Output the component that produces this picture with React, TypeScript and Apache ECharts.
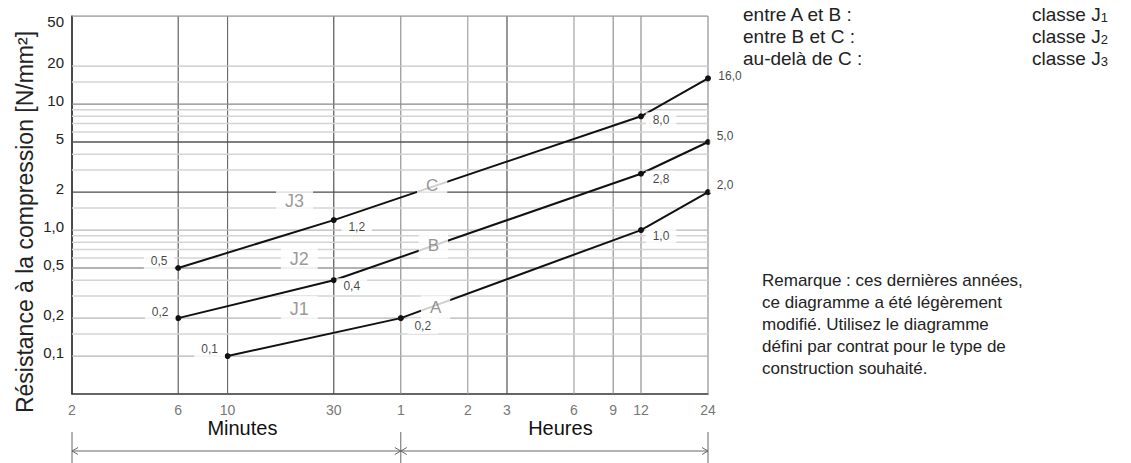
import React, { useEffect, useRef } from 'react';
import * as echarts from 'echarts';

// ---- data ----
const X_MIN = 2;
const X_MAX = 1440;
const Y_MIN = 0.05;
const Y_MAX = 50;

const xTickValues = [2, 6, 10, 30, 60, 120, 180, 360, 540, 720, 1440];
const xTickLabels = ['2', '6', '10', '30', '1', '2', '3', '6', '9', '12', '24'];

const yMajorValues = [50, 20, 10, 5, 2, 1, 0.5, 0.2, 0.1];
const yTickLabels = ['50', '20', '10', '5', '2', '1,0', '0,5', '0,2', '0,1'];
const yMinorValues = [15, 9, 8, 7, 6, 4, 3, 1.5, 0.9, 0.8, 0.7, 0.6, 0.4, 0.3, 0.15];

const curveAX = [10, 60, 720, 1440];
const curveAY = [0.1, 0.2, 1.0, 2.0];
const curveALabels = ['0,1', '0,2', '1,0', '2,0'];

const curveBX = [6, 30, 720, 1440];
const curveBY = [0.2, 0.4, 2.8, 5.0];
const curveBLabels = ['0,2', '0,4', '2,8', '5,0'];

const curveCX = [6, 30, 720, 1440];
const curveCY = [0.5, 1.2, 8.0, 16.0];
const curveCLabels = ['0,5', '1,2', '8,0', '16,0'];

const curveNames = ['A', 'B', 'C'];
const curveNameX = [86, 84, 83];
const curveNameY = [0.241, 0.75, 2.25];

const classNames = ['J1', 'J2', 'J3'];
const classX = [21, 21, 20];
const classY = [0.237, 0.59, 1.7];

const unitNames = ['Minutes', 'Heures'];
const unitStart = [2, 60];
const unitEnd = [60, 1440];

const legendLeft = ['entre A et B :', 'entre B et C :', 'au-delà de C :'];
const legendClass = ['1', '2', '3'];

const noteLines = [
  'Remarque : ces dernières années,',
  'ce diagramme a été légèrement',
  'modifié. Utilisez le diagramme',
  'défini par contrat pour le type de',
  'construction souhaité.',
];

const yAxisTitle = 'Résistance à la compression [N/mm²]';

// ---- styles ----
const FONT = '"Liberation Sans", Arial, Helvetica, sans-serif';
const xGridColor: Record<string, string> = {
  '2': '#333', '6': '#555', '10': '#666', '30': '#444', '60': '#888', '120': '#9a9a9a',
  '180': '#444', '360': '#9a9a9a', '540': '#888', '720': '#888', '1440': '#888',
};
const yMajorColor: Record<string, string> = {
  '50': '#999', '20': '#c6c6c6', '10': '#888', '5': '#555', '2': '#4a4a4a',
  '1': '#b8b8b8', '0.5': '#999', '0.2': '#b4b4b4', '0.1': '#b4b4b4',
};
const offsetsA = [[-18, -7], [22, 8], [20, 6], [17, -7]];
const offsetsB = [[-18, -6], [18, 6], [20, 5], [17, -6]];
const offsetsC = [[-19, -7], [23, 7], [20, 4], [22, -2]];

export default function App() {
  const ref = useRef<HTMLDivElement>(null);

  useEffect(() => {
    const el = ref.current;
    if (!el) return;
    const chart = echarts.init(el, null, { renderer: 'svg' });

    const series: any[] = [];
    xTickValues.forEach((v) => {
      series.push({
        type: 'line', data: [[v, Y_MIN], [v, Y_MAX]], symbol: 'none', silent: true, z: 1,
        lineStyle: { color: xGridColor[String(v)] || '#888', width: 1.1 },
      });
    });
    yMinorValues.forEach((v) => {
      series.push({
        type: 'line', data: [[X_MIN, v], [X_MAX, v]], symbol: 'none', silent: true, z: 1,
        lineStyle: { color: '#d4d4d4', width: 1.5 },
      });
    });
    yMajorValues.forEach((v) => {
      series.push({
        type: 'line', data: [[X_MIN, v], [X_MAX, v]], symbol: 'none', silent: true, z: 2,
        lineStyle: { color: yMajorColor[String(v)] || '#aaa', width: 1.3 },
      });
    });

    const curves = [
      { xs: curveAX, ys: curveAY, labels: curveALabels, offs: offsetsA },
      { xs: curveBX, ys: curveBY, labels: curveBLabels, offs: offsetsB },
      { xs: curveCX, ys: curveCY, labels: curveCLabels, offs: offsetsC },
    ];
    curves.forEach((c) => {
      series.push({
        type: 'line', data: c.xs.map((x, i) => [x, c.ys[i]]), symbol: 'circle', symbolSize: 6,
        z: 5, silent: true,
        itemStyle: { color: '#111' }, lineStyle: { color: '#111', width: 2 },
      });
    });
    const labelBase = {
      show: true, position: ['50%', '50%'], align: 'center', verticalAlign: 'middle',
      formatter: '{b}', fontFamily: FONT,
      backgroundColor: '#fff', textBorderWidth: 0, textBorderColor: 'transparent',
      textShadowBlur: 0,
    };
    const hiddenItem = { color: 'rgba(255,255,255,0)' };
    curves.forEach((c) => {
      series.push({
        type: 'scatter', z: 8, silent: true, symbolSize: 1, itemStyle: hiddenItem,
        data: c.xs.map((x, i) => ({
          name: c.labels[i], value: [x, c.ys[i]],
          label: { offset: c.offs[i] },
        })),
        label: { ...labelBase, color: '#111', fontSize: 12, padding: [2, 7] },
      });
    });
    series.push({
      type: 'scatter', z: 9, silent: true, symbolSize: 1, itemStyle: hiddenItem,
      data: curveNames.map((n, i) => ({ name: n, value: [curveNameX[i], curveNameY[i]] })),
      label: { ...labelBase, color: '#7a7a7a', fontSize: 17, padding: [4, 9] },
    });
    series.push({
      type: 'scatter', z: 9, silent: true, symbolSize: 1, itemStyle: hiddenItem,
      data: classNames.map((n, i) => ({ name: n, value: [classX[i], classY[i]] })),
      label: { ...labelBase, color: '#808080', fontSize: 18, padding: [4, 9] },
    });

    chart.setOption({
      animation: false,
      textStyle: { fontFamily: FONT },
      grid: { left: 72, right: 423, top: 16, bottom: 69 },
      xAxis: {
        type: 'log', logBase: 10, min: X_MIN, max: X_MAX,
        axisLine: { show: true, onZero: false, lineStyle: { color: '#333', width: 1.5 } },
        axisTick: { show: false }, axisLabel: { show: false }, splitLine: { show: false },
      },
      yAxis: {
        type: 'log', logBase: 10, min: Y_MIN, max: Y_MAX,
        axisLine: { show: true, onZero: false, lineStyle: { color: '#333', width: 1.5 } },
        axisTick: { show: false }, axisLabel: { show: false }, splitLine: { show: false },
      },
      series,
    });

    const px = (x: number, y: number) => chart.convertToPixel({ gridIndex: 0 }, [x, y]) as number[];
    const top = px(X_MIN, Y_MAX)[1];
    const bottom = px(X_MIN, Y_MIN)[1];
    const g: any[] = [];
    const txt = (x: number, y: number, text: string, style: any) => g.push({
      type: 'text', x, y, silent: true,
      style: { text, fontFamily: FONT, align: 'center', verticalAlign: 'middle', ...style },
    });

    xTickValues.forEach((v, i) => {
      txt(px(v, Y_MIN)[0], bottom + 16, xTickLabels[i], { fontSize: 14, fill: '#777' });
    });
    yMajorValues.forEach((v, i) => {
      const py = Math.max(px(X_MIN, v)[1] - 4, top + 5);
      txt(px(X_MIN, v)[0] - 8, py, yTickLabels[i], { fontSize: 15, fill: '#222', align: 'right' });
    });
    g.push({
      type: 'text', x: 25, y: 222, rotation: Math.PI / 2, silent: true,
      style: { text: yAxisTitle, fontFamily: FONT, fontSize: 23, fill: '#222', align: 'center', verticalAlign: 'middle' },
    });

    const arrowY = bottom + 57;
    const stroke = { stroke: '#666', lineWidth: 1, fill: 'none' };
    unitNames.forEach((n, i) => {
      const a = px(unitStart[i], Y_MIN)[0];
      const b = px(unitEnd[i], Y_MIN)[0];
      txt((a + b) / 2 + 6, bottom + 34, n, { fontSize: 20, fill: '#111' });
      g.push({ type: 'line', silent: true, shape: { x1: a, y1: arrowY, x2: b, y2: arrowY }, style: stroke });
      g.push({ type: 'polyline', silent: true, shape: { points: [[a + 6, arrowY - 3.5], [a, arrowY], [a + 6, arrowY + 3.5]] }, style: stroke });
      g.push({ type: 'polyline', silent: true, shape: { points: [[b - 6, arrowY - 3.5], [b, arrowY], [b - 6, arrowY + 3.5]] }, style: stroke });
    });
    [X_MIN, unitStart[1], X_MAX].forEach((v) => {
      const x = px(v, Y_MIN)[0];
      g.push({ type: 'line', silent: true, shape: { x1: x, y1: bottom + 38, x2: x, y2: 463 }, style: stroke });
    });

    legendLeft.forEach((t, i) => {
      txt(743, 14 + i * 22, t, { fontSize: 19, fill: '#222', align: 'left' });
      g.push({
        type: 'text', x: 1032, y: 14 + i * 22, silent: true,
        style: {
          text: 'classe J{s|' + legendClass[i] + '}', fontFamily: FONT, fontSize: 19, fill: '#222',
          align: 'left', verticalAlign: 'middle',
          rich: { s: { fontSize: 13, fontFamily: FONT, fill: '#222', verticalAlign: 'bottom', padding: [5, 0, 0, 0] } },
        },
      });
    });

    g.push({
      type: 'text', x: 762, y: 269, silent: true,
      style: {
        text: noteLines.join('\n'), fontFamily: FONT, fontSize: 17, lineHeight: 22, fill: '#222',
        align: 'left', verticalAlign: 'top',
      },
    });

    chart.setOption({ graphic: g });

    return () => chart.dispose();
  }, []);

  return <div ref={ref} style={{ position: 'absolute', left: 0, top: 0, width: 1131, height: 463, background: '#fff' }} />;
}
